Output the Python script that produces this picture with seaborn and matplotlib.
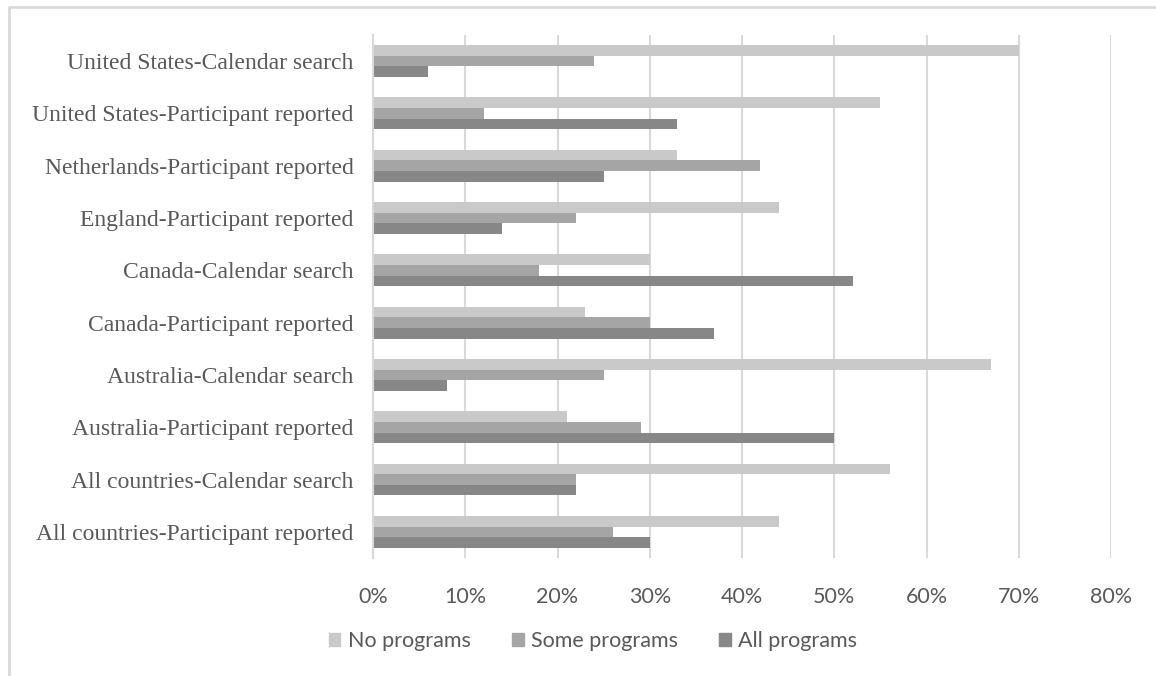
import pandas as pd
import matplotlib.pyplot as plt
import seaborn as sns
from matplotlib.lines import Line2D

# datos (porcentajes)
categories = [
    "United States-Calendar search",
    "United States-Participant reported",
    "Netherlands-Participant reported",
    "England-Participant reported",
    "Canada-Calendar search",
    "Canada-Participant reported",
    "Australia-Calendar search",
    "Australia-Participant reported",
    "All countries-Calendar search",
    "All countries-Participant reported",
]
no_programs = [70, 55, 33, 44, 30, 23, 67, 21, 56, 44]
some_programs = [24, 12, 42, 22, 18, 30, 25, 29, 22, 26]
all_programs = [6, 33, 25, 14, 52, 37, 8, 50, 22, 30]
series_names = ["No programs", "Some programs", "All programs"]
x_ticks = [0, 10, 20, 30, 40, 50, 60, 70, 80]

colors = ["#c9c9c9", "#a5a5a5", "#878787"]
text_grey = "#595959"
line_grey = "#d9d9d9"

rows = []
for name, vals in zip(series_names, [no_programs, some_programs, all_programs]):
    for cat, v in zip(categories, vals):
        rows.append({"Category": cat, "Series": name, "Value": v})
df = pd.DataFrame(rows)

sns.set_style("white")

fig = plt.figure(figsize=(11.56, 6.76), dpi=100)
ax = fig.add_axes([0.3227, 0.1746, 0.6384, 0.7737])

sns.barplot(
    data=df, y="Category", x="Value", hue="Series",
    order=categories, hue_order=series_names,
    palette=colors, orient="h", width=0.61,
    linewidth=0, saturation=1, errorbar=None, ax=ax, legend=False,
)

ax.set_xlim(0, 80)
ax.set_xticks(x_ticks)
ax.set_xticklabels([f"{t}%" for t in x_ticks], family="Lato", fontsize=15.5, color=text_grey)
ax.set_yticklabels(categories, family="Liberation Serif", fontsize=17, color=text_grey)
ax.tick_params(axis="x", length=0, pad=21)
ax.tick_params(axis="y", length=0, pad=14)
ax.set_xlabel("")
ax.set_ylabel("")
ax.xaxis.grid(True, color=line_grey, linewidth=1.5)
ax.set_axisbelow(True)
for s in ["top", "right", "bottom"]:
    ax.spines[s].set_visible(False)
ax.spines["left"].set_color(line_grey)
ax.spines["left"].set_linewidth(1.5)

# leyenda abajo
handles = [plt.Rectangle((0, 0), 1, 1, color=c) for c in colors]
fig.legend(handles, series_names, loc="center", ncol=3,
           bbox_to_anchor=(593 / 1156, 1 - 641 / 676), frameon=False,
           prop={"family": "Lato", "size": 15.5}, labelcolor=text_grey,
           handlelength=0.55, handleheight=0.55, handletextpad=0.35, columnspacing=1.9)

# borde del area del grafico (recortado a la derecha y abajo)
fig.add_artist(Line2D([9 / 1156, 9 / 1156, 1.0], [0.0, 1 - 7 / 676, 1 - 7 / 676],
                      color=line_grey, linewidth=2, transform=fig.transFigure))

fig.savefig("out.png", dpi=100)
